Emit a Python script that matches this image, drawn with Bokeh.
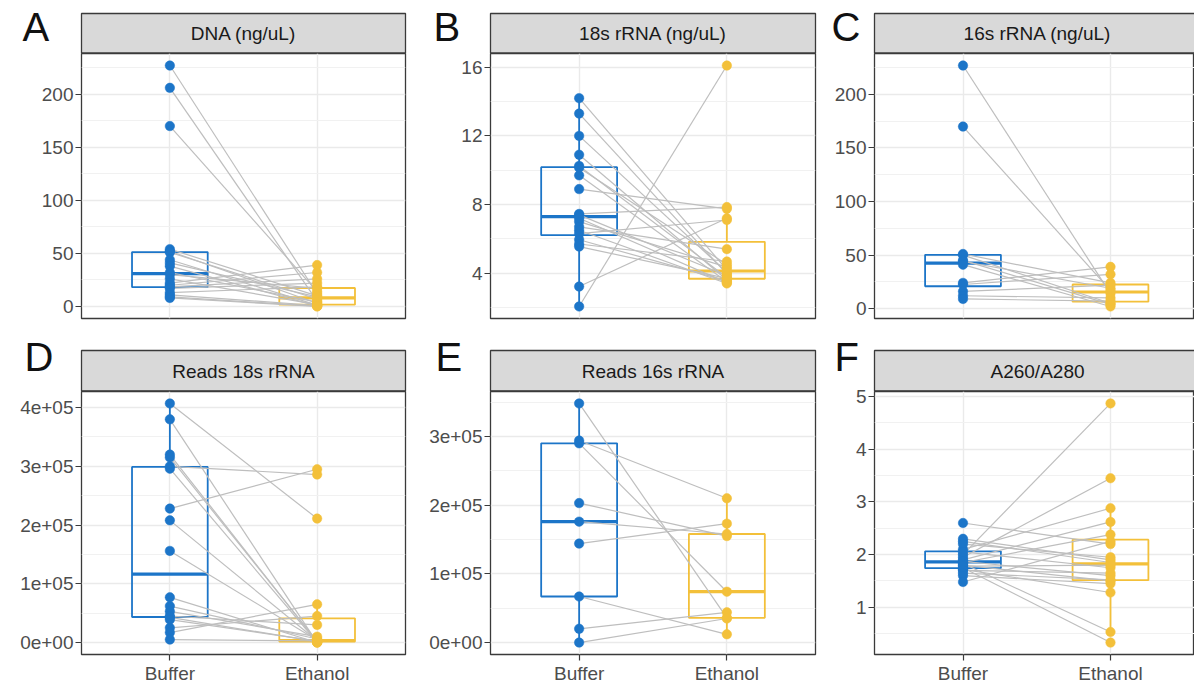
import numpy as np
from bokeh.plotting import figure
from bokeh.layouts import column, row
from bokeh.models import FixedTicker, Label, Range1d
from bokeh.embed import file_html
from bokeh.resources import INLINE

# ---------------- data (paired samples: buffer[i] <-> ethanol[i]) ----------------
categories = ["Buffer", "Ethanol"]

dna_buffer = [227, 206, 170, 54, 52, 51, 44, 41, 38, 32, 30, 26, 22, 20, 18.5, 17, 13, 11, 9, 8]
dna_ethanol = [12, 5, 14, 10, 3, 7, 1.2, 9, 0.6, 4, 17, 1.8, 39, 32, 26, 22, 18.5, 0.9, 0.3, 0]

r18_buffer = [2.06, 3.22, 14.2, 13.3, 12.0, 10.9, 10.25, 10.15, 9.7, 8.9, 7.45, 7.4, 7.2, 7.0, 6.7, 6.5, 6.3, 5.95, 5.7, 5.55]
r18_ethanol = [16.1, 7.2, 4.2, 3.95, 4.05, 3.6, 3.75, 4.5, 3.5, 7.75, 7.85, 3.85, 3.45, 4.35, 5.4, 3.4, 7.1, 3.55, 4.68, 3.7]

r16_buffer = [227, 170, 51, 50, 45, 44, 41, 24, 22.5, 16, 12, 9]
r16_ethanol = [14, 17, 24, 5, 4, 19, 2, 39, 32, 22, 10, 7]

reads18_buffer = [407000, 380000, 320000, 315000, 300000, 296000, 228000, 208000, 156000,
                  77000, 62000, 53000, 45000, 43000, 39000, 25000, 17000, 5000]
reads18_ethanol = [211000, 0, 1000, 2000, 286000, 500, 295000, 3000, 4000,
                   0, 6000, 10000, 30000, 1500, 2500, 45000, 65000, 3000]

reads16_buffer = [348000, 294000, 290000, 203000, 176000, 144000, 67000, 20000, 0]
reads16_ethanol = [36000, 210000, 74000, 155000, 158000, 173000, 12000, 44000, 35000]

a260_buffer = [2.6, 2.0, 1.95, 2.1, 1.9, 1.85, 2.3, 2.25, 2.2, 2.05, 1.87, 1.83, 1.75, 1.72, 1.8, 1.78, 1.7, 1.65, 1.6, 1.48]
a260_ethanol = [2.2, 4.87, 3.45, 2.88, 2.62, 2.38, 1.9, 1.85, 1.95, 1.75, 1.6, 0.53, 0.33, 1.28, 1.5, 1.8, 1.65, 1.52, 1.45, 2.25]

titles = ["DNA (ng/uL)", "18s rRNA (ng/uL)", "16s rRNA (ng/uL)",
          "Reads 18s rRNA", "Reads 16s rRNA", "A260/A280"]
letters = ["A", "B", "C", "D", "E", "F"]

ticks_dna = [0, 50, 100, 150, 200]
ticks_r18 = [4, 8, 12, 16]
ticks_r16 = [0, 50, 100, 150, 200]
ticks_reads18 = [0, 100000, 200000, 300000, 400000]
ticks_reads16 = [0, 100000, 200000, 300000]
ticks_a260 = [1, 2, 3, 4, 5]
labels_reads18 = ["0e+00", "1e+05", "2e+05", "3e+05", "4e+05"]
labels_reads16 = ["0e+00", "1e+05", "2e+05", "3e+05"]

# ---------------- style / layout ----------------
BLUE = "#1C75C8"
YELLOW = "#F3C03A"
GREY_LINE = "#BEBEBE"
BORDER = "#3A3A3A"
STRIP_FILL = "#D9D9D9"
FONT = "Liberation Sans"
TXT = "19px"

# columns: (left border, frame width, right border, x_end)
cols = [
    (81, 324, 3, 2.6),
    (82, 325, 2, 2.6),
    (57, 320, 0, 0.4 + 320 / 147.5),
]
col_start = [0, 408, 817]
TOTAL_W = 1194
strip_overhang = [0, 0, 6]          # last strip is cut by the page edge
letter_x = [22, 25, 14, 24, 27, 17]  # relative to column start
OVERLAP = 8                          # panel canvases reach up over the strip row (transparent border)


def box_stats(v):
    v = np.asarray(v, dtype=float)
    q1, med, q3 = np.percentile(v, [25, 50, 75])
    iqr = q3 - q1
    lo = v[v >= q1 - 1.5 * iqr].min()
    hi = v[v <= q3 + 1.5 * iqr].max()
    return q1, med, q3, lo, hi


def make_header(idx0, height, strip_h, letter_y):
    h = figure(width=TOTAL_W, height=height, x_range=Range1d(0, TOTAL_W), y_range=Range1d(0, height),
               toolbar_location=None, output_backend="svg", title=None,
               min_border_left=0, min_border_right=0, min_border_top=0, min_border_bottom=0,
               x_axis_location=None, y_axis_location=None,
               background_fill_color="white", border_fill_color="white", outline_line_color=None)
    h.xgrid.visible = False
    h.ygrid.visible = False
    lefts, rights = [], []
    for ci in range(3):
        bl, fw, br, _ = cols[ci]
        x0 = col_start[ci] + bl
        x1 = x0 + fw + strip_overhang[ci]
        lefts.append(x0)
        rights.append(x1)
    h.quad(left=lefts, right=rights, bottom=[0.5] * 3, top=[strip_h] * 3,
           fill_color=STRIP_FILL, line_color=BORDER, line_width=1.3)
    for ci in range(3):
        i = idx0 + ci
        h.add_layout(Label(x=(lefts[ci] + rights[ci]) / 2, y=strip_h / 2, text=titles[i],
                           text_align="center", text_baseline="middle",
                           text_font=FONT, text_font_size=TXT, text_color="#1A1A1A"))
        h.add_layout(Label(x=col_start[ci] + letter_x[i], y=letter_y, text=letters[i],
                           text_align="left", text_baseline="middle",
                           text_font=FONT, text_font_size="40px", text_color="#111111"))
    return h


def make_panel(ci, buf, eth, ticks, tick_labels, frame_h, top_border, bottom_border, show_x):
    bl, fw, br, x_end = cols[ci]
    allv = np.concatenate([np.asarray(buf, float), np.asarray(eth, float)])
    vmin, vmax = allv.min(), allv.max()
    pad = 0.05 * (vmax - vmin)
    y0, y1 = vmin - pad, vmax + pad
    p = figure(width=bl + fw + br, height=top_border + frame_h + bottom_border,
               x_range=Range1d(0.4, x_end), y_range=Range1d(y0, y1),
               toolbar_location=None, output_backend="svg", title=None,
               min_border_left=bl, min_border_right=br, min_border_top=top_border,
               min_border_bottom=bottom_border,
               background_fill_color="white", border_fill_color=None,
               outline_line_color=BORDER, outline_line_width=1.3)
    step = ticks[1] - ticks[0]
    minor = [t - step / 2 for t in ticks] + [ticks[-1] + step / 2]
    minor = [m for m in minor if y0 <= m <= y1]
    p.yaxis.ticker = FixedTicker(ticks=ticks, minor_ticks=minor)
    p.yaxis.axis_line_color = None
    p.yaxis.major_tick_out = 6
    p.yaxis.major_tick_in = 0
    p.yaxis.minor_tick_line_color = None
    p.yaxis.major_tick_line_color = BORDER
    p.yaxis.major_tick_line_width = 1.2
    p.yaxis.major_label_standoff = 2
    p.yaxis.major_label_text_font = FONT
    p.yaxis.major_label_text_font_size = TXT
    p.yaxis.major_label_text_color = "#4D4D4D"
    if tick_labels is not None:
        p.yaxis.major_label_overrides = {t: l for t, l in zip(ticks, tick_labels)}
    else:
        p.yaxis.major_label_overrides = {t: str(t) for t in ticks}
    xpos = [i + 1 for i in range(len(categories))]
    xt = FixedTicker(ticks=xpos, minor_ticks=[])
    p.xaxis.ticker = xt
    p.xgrid.ticker = xt
    if show_x:
        p.xaxis.axis_line_color = None
        p.xaxis.major_tick_out = 6
        p.xaxis.major_tick_in = 0
        p.xaxis.minor_tick_line_color = None
        p.xaxis.major_tick_line_color = BORDER
        p.xaxis.major_tick_line_width = 1.2
        p.xaxis.major_label_standoff = 2
        p.xaxis.major_label_text_font = FONT
        p.xaxis.major_label_text_font_size = TXT
        p.xaxis.major_label_text_color = "#4D4D4D"
        p.xaxis.major_label_overrides = {x: c for x, c in zip(xpos, categories)}
    else:
        p.xaxis.visible = False
    p.ygrid.grid_line_color = "#EAEAEA"
    p.ygrid.grid_line_width = 1.4
    p.ygrid.minor_grid_line_color = "#F1F1F1"
    p.ygrid.minor_grid_line_width = 1.0
    p.xgrid.grid_line_color = "#EAEAEA"
    p.xgrid.grid_line_width = 1.4

    hw = 0.257
    for x, vals, col in [(xpos[0], buf, BLUE), (xpos[1], eth, YELLOW)]:
        q1, med, q3, lo, hi = box_stats(vals)
        p.segment(x0=[x, x], y0=[q3, q1], x1=[x, x], y1=[hi, lo], line_color=col, line_width=1.8)
        p.quad(left=[x - hw], right=[x + hw], bottom=[q1], top=[q3], fill_color="white", fill_alpha=0.0,
               line_color=col, line_width=1.8)
        p.segment(x0=[x - hw], y0=[med], x1=[x + hw], y1=[med], line_color=col, line_width=3.2)
    n = len(buf)
    p.segment(x0=[xpos[0]] * n, y0=buf, x1=[xpos[1]] * n, y1=eth, line_color=GREY_LINE, line_width=1.2)
    p.scatter(x=[xpos[0]] * n, y=buf, size=9.5, fill_color=BLUE, line_color=BLUE, line_width=0.5)
    p.scatter(x=[xpos[1]] * n, y=eth, size=9.5, fill_color=YELLOW, line_color=YELLOW, line_width=0.5)
    return p


panels = [
    (dna_buffer, dna_ethanol, ticks_dna, None),
    (r18_buffer, r18_ethanol, ticks_r18, None),
    (r16_buffer, r16_ethanol, ticks_r16, None),
    (reads18_buffer, reads18_ethanol, ticks_reads18, labels_reads18),
    (reads16_buffer, reads16_ethanol, ticks_reads16, labels_reads16),
    (a260_buffer, a260_ethanol, ticks_a260, None),
]

top_mains = []
bot_mains = []
for i in range(6):
    ci = i % 3
    buf, eth, tk, tl = panels[i]
    if i < 3:
        top_mains.append(make_panel(ci, buf, eth, tk, tl, 265, 0, 12, False))
    else:
        bot_mains.append(make_panel(ci, buf, eth, tk, tl, 264, OVERLAP, 31, True))

hdr1 = make_header(0, 53, 40, 26.9)
hdr2 = make_header(3, 61, 41, 34.9)

layout = column(hdr1, row(*top_mains), hdr2, row(*bot_mains, margin=(-OVERLAP, 0, 0, 0)))

open("out.html", "w").write(file_html(layout, INLINE))
